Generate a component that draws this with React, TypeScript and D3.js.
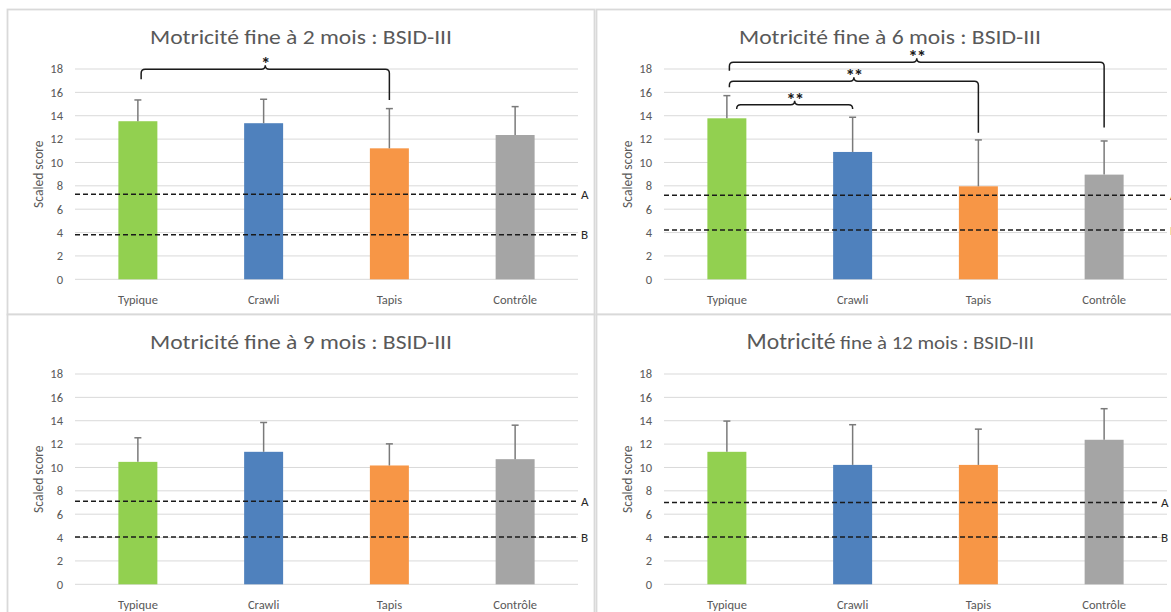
import React from 'react';
import * as d3 from 'd3';

const categories = ['Typique', 'Crawli', 'Tapis', 'Contrôle'];
const barColors = ['#92D050', '#4F81BD', '#F79646', '#A5A5A5'];
const yTicks = [0, 2, 4, 6, 8, 10, 12, 14, 16, 18];

// 2 mois
const means2 = [13.53, 13.36, 11.21, 12.35];
const sds2 = [1.82, 2.05, 3.4, 2.43];
const limits2 = [7.28, 3.82];
// 6 mois
const means6 = [13.78, 10.9, 7.96, 8.96];
const sds6 = [1.94, 2.97, 3.97, 2.88];
const limits6 = [7.19, 4.22];
// 9 mois
const means9 = [10.48, 11.34, 10.17, 10.71];
const sds9 = [2.06, 2.51, 1.85, 2.91];
const limits9 = [7.11, 4.05];
// 12 mois
const means12 = [11.34, 10.22, 10.22, 12.37];
const sds12 = [2.63, 3.44, 3.06, 2.66];
const limits12 = [7.01, 4.04];

const limitLabels = ['A', 'B'];

const brackets2 = [
  { from: 'Typique', to: 'Tapis', top: 17.98, leftEnd: 17.12, rightEnd: 15.35, shift: 0.026, label: '*' },
];
const brackets6 = [
  { from: 'Typique', to: 'Crawli', top: 14.95, leftEnd: 14.58, rightEnd: 14.58, shift: 0.078, label: '**' },
  { from: 'Typique', to: 'Tapis', top: 16.95, leftEnd: 16.44, rightEnd: 12.55, shift: 0.02, label: '**' },
  { from: 'Typique', to: 'Contrôle', top: 18.58, leftEnd: 17.86, rightEnd: 13.0, shift: 0.02, label: '**' },
];

const FONT = "Carlito, Lato, 'Open Sans', sans-serif";
const GREY_TXT = '#595959';

const PANEL_W = 587;
const PANEL_H = 305;
const PLOT_LEFT = 67.5;
const PLOT_W = 503;
const PLOT_TOP = 59.5;
const PLOT_H = 210.3;

type Bracket = { from: string; to: string; top: number; leftEnd: number; rightEnd: number; shift: number; label: string };

function bracketPath(x1: number, x2: number, yTop: number, yL: number, yR: number) {
  const r = 4, bump = 4, bw = 4;
  const xm = (x1 + x2) / 2;
  return `M${x1},${yL} L${x1},${yTop + r} Q${x1},${yTop} ${x1 + r},${yTop} L${xm - bw},${yTop} Q${xm},${yTop} ${xm},${yTop - bump} Q${xm},${yTop} ${xm + bw},${yTop} L${x2 - r},${yTop} Q${x2},${yTop} ${x2},${yTop + r} L${x2},${yR}`;
}

function Panel({ px, py, title, means, sds, limits, brackets, titleParts, limitInset = 0 }:
  { px: number; py: number; title?: string; means: number[]; sds: number[]; limits: number[]; brackets: Bracket[]; titleParts?: boolean; limitInset?: number }) {
  const x = d3.scaleBand<string>().domain(categories).range([0, PLOT_W]).padding(0);
  const y = d3.scaleLinear().domain([0, 18]).range([PLOT_H, 0]);
  const bw = x.bandwidth() * 0.31;
  const cx = (c: string) => (x(c) as number) + x.bandwidth() / 2;
  const centerX = PANEL_W / 2;
  return (
    <g transform={`translate(${px},${py})`}>
      <rect x={0} y={0} width={PANEL_W} height={PANEL_H} fill="#fff" stroke="#d9d9d9" strokeWidth={1.8} />
      {titleParts ? (
        <g fill={GREY_TXT} fontFamily={FONT}>
          <text x={centerX - 143.5} y={34.5} fontSize={22} textLength={89} lengthAdjust="spacingAndGlyphs">Motricité</text>
          <text x={centerX - 50} y={34.5} fontSize={18} textLength={194} lengthAdjust="spacingAndGlyphs">fine à 12 mois : BSID-III</text>
        </g>
      ) : (
        <text x={centerX} y={34.5} textAnchor="middle" fill={GREY_TXT} fontFamily={FONT} fontSize={20}
          textLength={302} lengthAdjust="spacingAndGlyphs">{title}</text>
      )}
      <g transform={`translate(${PLOT_LEFT},${PLOT_TOP})`}>
        {yTicks.map((t) => (
          <g key={t}>
            <line x1={0} x2={PLOT_W} y1={y(t)} y2={y(t)} stroke="#d9d9d9" strokeWidth={1} />
            <text x={-12} y={y(t)} dy="0.35em" textAnchor="end" fill={GREY_TXT} fontFamily={FONT} fontSize={12.5}>{t}</text>
          </g>
        ))}
        <text transform={`translate(${-32},${PLOT_H / 2}) rotate(-90)`} textAnchor="middle" fill={GREY_TXT}
          fontFamily={FONT} fontSize={13.5}>Scaled score</text>
        {categories.map((c, i) => (
          <g key={c}>
            <rect x={cx(c) - bw / 2} y={y(means[i])} width={bw} height={y(0) - y(means[i])} fill={barColors[i]} />
            <line x1={cx(c)} x2={cx(c)} y1={y(means[i])} y2={y(means[i] + sds[i])} stroke="#7a7a7a" strokeWidth={1.5} />
            <line x1={cx(c) - 3.5} x2={cx(c) + 3.5} y1={y(means[i] + sds[i])} y2={y(means[i] + sds[i])} stroke="#7a7a7a" strokeWidth={1.5} />
            <text x={cx(c)} y={PLOT_H + 25} textAnchor="middle" fill={GREY_TXT} fontFamily={FONT} fontSize={12.5}>{c}</text>
          </g>
        ))}
        {limits.map((v, i) => (
          <g key={i}>
            <line x1={0} x2={PLOT_W - limitInset} y1={y(v)} y2={y(v)} stroke="#1a1a1a" strokeWidth={1.5} strokeDasharray="5,3" />
            <text x={PLOT_W - limitInset + 3} y={y(v)} dy="0.35em" fill="#262626" fontFamily={FONT} fontSize={13}>{limitLabels[i]}</text>
          </g>
        ))}
        {brackets.map((b, i) => {
          const x1 = cx(b.from) + b.shift * x.bandwidth();
          const x2 = cx(b.to);
          return (
            <g key={i}>
              <path d={bracketPath(x1, x2, y(b.top), y(b.leftEnd), y(b.rightEnd))} fill="none" stroke="#1a1a1a" strokeWidth={1.5} />
              <text x={(x1 + x2) / 2} y={y(b.top) + 1} textAnchor="middle" fill="#1a1a1a" fontFamily={FONT}
                fontSize={19} fontWeight="bold" letterSpacing={-1}>{b.label}</text>
            </g>
          );
        })}
      </g>
    </g>
  );
}

export default function App() {
  return (
    <svg width={1171} height={612} style={{ position: 'absolute', left: 0, top: 0, background: '#fff' }}>
      <rect x={0} y={0} width={1171} height={612} fill="#fff" />
      <Panel px={7.5} py={9.5} title="Motricité fine à 2 mois : BSID-III" means={means2} sds={sds2} limits={limits2} brackets={brackets2} />
      <Panel px={596.5} py={9.5} title="Motricité fine à 6 mois : BSID-III" means={means6} sds={sds6} limits={limits6} brackets={brackets6} />
      <Panel px={7.5} py={314.5} title="Motricité fine à 9 mois : BSID-III" means={means9} sds={sds9} limits={limits9} brackets={[]} />
      <Panel px={596.5} py={314.5} means={means12} sds={sds12} limits={limits12} brackets={[]} titleParts limitInset={9} />
    </svg>
  );
}
